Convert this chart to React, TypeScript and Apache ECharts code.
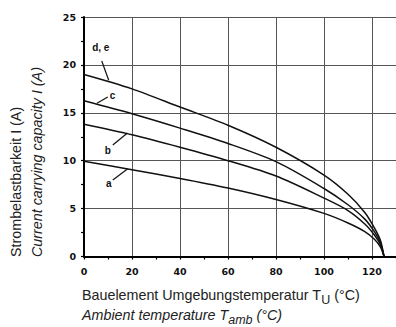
import React, { useEffect, useRef } from "react";
import * as echarts from "echarts";

// Temperature (°C) vs current carrying capacity (A)
const curveDE: [number, number][] = [[0, 19.0], [20, 17.5], [40, 15.6], [60, 13.7], [80, 11.4], [100, 8.5], [110, 6.5], [117, 4.6], [121, 3.0], [123.5, 1.7], [125, 0]];
const curveC: [number, number][] = [[0, 16.25], [20, 14.9], [40, 13.4], [60, 11.8], [80, 9.9], [100, 7.1], [110, 5.4], [117, 3.9], [121, 2.6], [123.5, 1.45], [125, 0]];
const curveB: [number, number][] = [[0, 13.8], [20, 12.7], [40, 11.4], [60, 10.0], [80, 8.4], [100, 6.1], [110, 4.8], [117, 3.4], [121, 2.25], [123.5, 1.25], [125, 0]];
const curveA: [number, number][] = [[0, 9.95], [20, 9.05], [40, 8.15], [60, 7.15], [80, 5.95], [100, 4.5], [110, 3.5], [117, 2.6], [121, 1.8], [123.5, 1.0], [125, 0]];

const curveNames = ["d, e", "c", "b", "a"];
// leader lines: [fromT, fromI, toT, toI]
const leaderDE = [7.4, 20.4, 10.3, 18.4];
const leaderC = [9.9, 16.65, 5.4, 16.0];
const leaderB = [12.0, 11.64, 18.1, 12.9];
const leaderA = [12.0, 7.99, 18.1, 9.13];
// label positions [T, I]
const labelPosDE = [7.0, 21.8];
const labelPosC = [11.9, 16.85];
const labelPosB = [9.9, 11.1];
const labelPosA = [10.3, 7.65];

const xTicks = { min: 0, max: 130, interval: 20 };
const yTicks = { min: 0, max: 25, interval: 5 };

const yTitle1 = "Strombelastbarkeit I (A)";
const yTitle2 = "Current carrying capacity I (A)";
const xTitle1 = ["Bauelement Umgebungstemperatur T", "U", " (°C)"];
const xTitle2 = ["Ambient temperature T", "amb", " (°C)"];

const sans = "'Liberation Sans', Arial, sans-serif";

export default function App() {
  const ref = useRef<HTMLDivElement>(null);
  useEffect(() => {
    if (!ref.current) return;
    const chart = echarts.init(ref.current, null, { renderer: "svg" });
    const curves = [curveDE, curveC, curveB, curveA];
    const leaders = [leaderDE, leaderC, leaderB, leaderA];
    const labels = [labelPosDE, labelPosC, labelPosB, labelPosA];
    const series: any[] = curves.map((c, i) => ({
      name: curveNames[i],
      type: "line",
      data: c,
      smooth: 0.3,
      showSymbol: false,
      symbol: "none",
      lineStyle: { color: "#111", width: 1.5 },
      markLine: {
        silent: true,
        symbol: ["none", "none"],
        label: { show: false },
        lineStyle: { color: "#111", width: 1.2, type: "solid" },
        data: [[{ coord: [leaders[i][0], leaders[i][1]] }, { coord: [leaders[i][2], leaders[i][3]] }]],
      },
      markPoint: {
        silent: true,
        symbol: "circle",
        symbolSize: 0,
        label: {
          show: true,
          formatter: curveNames[i],
          color: "#111",
          fontSize: 10,
          fontWeight: "bold",
          fontFamily: sans,
        },
        data: [{ coord: [labels[i][0], labels[i][1]] }],
      },
    }));
    chart.setOption({
      animation: false,
      grid: { left: 84, right: -3.25, top: 17, bottom: 70.5, containLabel: false },
      xAxis: {
        type: "value",
        min: xTicks.min,
        max: xTicks.max,
        interval: xTicks.interval,
        axisLine: { show: true, onZero: false, lineStyle: { color: "#000", width: 2 } },
        axisTick: { show: true, length: 3, lineStyle: { color: "#000", width: 1.2 } },
        minorTick: { show: true, splitNumber: 2, length: 3, lineStyle: { color: "#000", width: 1.2 } },
        splitLine: { show: true, lineStyle: { color: "#555", width: 1 } },
        axisLabel: {
          showMaxLabel: false,
          margin: 10,
          color: "#111",
          fontSize: 9.5,
          fontWeight: "bold",
          fontFamily: "'DejaVu Sans', sans-serif",
        },
      },
      yAxis: {
        type: "value",
        min: yTicks.min,
        max: yTicks.max,
        interval: yTicks.interval,
        axisLine: { show: true, onZero: false, lineStyle: { color: "#000", width: 2 } },
        axisTick: { show: true, length: 3, lineStyle: { color: "#000", width: 1.2 } },
        minorTick: { show: true, splitNumber: 2, length: 3, lineStyle: { color: "#000", width: 1.2 } },
        splitLine: { show: true, lineStyle: { color: "#555", width: 1 } },
        axisLabel: {
          margin: 8,
          color: "#111",
          fontSize: 9.5,
          fontWeight: "bold",
          fontFamily: "'DejaVu Sans', sans-serif",
        },
      },
      series,
      graphic: [
        {
          type: "text",
          x: 16,
          y: 257,
          rotation: Math.PI / 2,
          style: {
            text: yTitle1,
            fill: "#222",
            font: `14.3px ${sans}`,
            align: "left",
            verticalAlign: "middle",
          },
        },
        {
          type: "text",
          x: 37,
          y: 257,
          rotation: Math.PI / 2,
          style: {
            text: yTitle2,
            fill: "#222",
            font: `italic 14.3px ${sans}`,
            align: "left",
            verticalAlign: "middle",
          },
        },
        {
          type: "text",
          x: 82,
          y: 288,
          style: {
            text: `{m|${xTitle1[0]}}{s|${xTitle1[1]}}{m|${xTitle1[2]}}`,
            align: "left",
            verticalAlign: "top",
            rich: {
              m: { fontSize: 14.3, fontFamily: sans, fill: "#222", color: "#222", lineHeight: 18, verticalAlign: "top" },
              s: { fontSize: 12.5, fontFamily: sans, fill: "#222", color: "#222", lineHeight: 18, verticalAlign: "bottom", padding: [8, 0, 0, 0] },
            },
          },
        },
        {
          type: "text",
          x: 82,
          y: 308,
          style: {
            text: `{m|${xTitle2[0]}}{s|${xTitle2[1]}}{m|${xTitle2[2]}}`,
            align: "left",
            verticalAlign: "top",
            rich: {
              m: { fontSize: 14.3, fontStyle: "italic", fontFamily: sans, fill: "#222", color: "#222", lineHeight: 18, verticalAlign: "top" },
              s: { fontSize: 12.5, fontStyle: "italic", fontFamily: sans, fill: "#222", color: "#222", lineHeight: 18, verticalAlign: "bottom", padding: [6, 0, 0, 0] },
            },
          },
        },
      ],
    });
    return () => chart.dispose();
  }, []);
  return (
    <div
      ref={ref}
      style={{ position: "fixed", left: 0, top: 0, width: 396, height: 327, background: "#fff" }}
    />
  );
}
